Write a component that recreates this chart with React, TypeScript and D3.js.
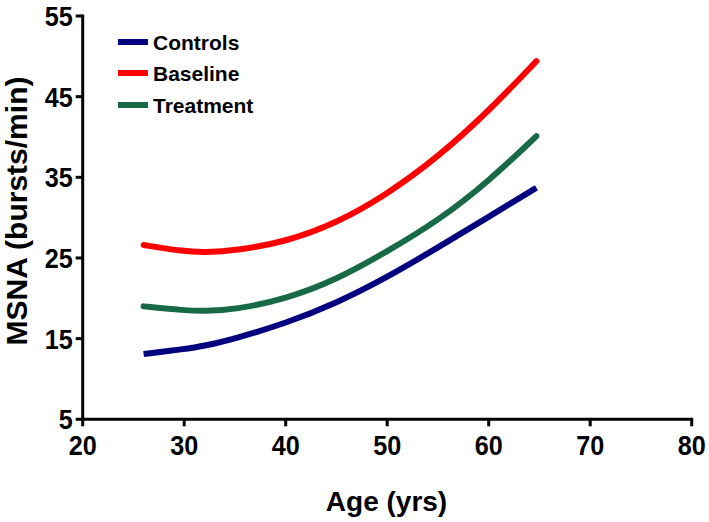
import React, { useRef, useEffect } from "react";
import * as d3 from "d3";

const ages = [26, 30, 32, 35, 40, 45, 50, 55, 60, 64.7];
const controls = [13.1, 13.7, 14.1, 15.0, 16.9, 19.4, 22.6, 26.3, 30.1, 33.7];
const baseline = [26.6, 25.8, 25.7, 25.9, 27.0, 29.3, 32.9, 37.5, 43.2, 49.4];
const treatment = [19.0, 18.5, 18.4, 18.6, 19.9, 22.3, 25.8, 29.6, 34.5, 40.1];

const xTicks = [20, 30, 40, 50, 60, 70, 80];
const yTicks = [5, 15, 25, 35, 45, 55];

const series = [
  { name: "Controls", values: controls, color: "#02027e", cap: "butt" },
  { name: "Baseline", values: baseline, color: "#ff0000", cap: "round" },
  { name: "Treatment", values: treatment, color: "#186a46", cap: "round" },
];

export default function App() {
  const ref = useRef<SVGSVGElement>(null);

  useEffect(() => {
    if (!ref.current) return;
    const svg = d3.select(ref.current);
    svg.selectAll("*").remove();

    const x = d3.scaleLinear().domain([20, 80]).range([82.7, 691.7]);
    const y = d3.scaleLinear().domain([5, 55]).range([419.3, 16]);
    const font = "'Liberation Sans', Arial, sans-serif";

    // axes
    const ax = svg.append("g").attr("stroke", "#000").attr("stroke-width", 3).attr("fill", "none");
    ax.append("line").attr("x1", x(20)).attr("x2", x(80)).attr("y1", y(5)).attr("y2", y(5)).attr("stroke-linecap", "square");
    ax.append("line").attr("x1", x(20)).attr("x2", x(20)).attr("y1", y(5)).attr("y2", y(55)).attr("stroke-linecap", "square");
    ax.selectAll(".xt").data(xTicks).enter().append("line")
      .attr("x1", d => x(d)).attr("x2", d => x(d)).attr("y1", y(5)).attr("y2", y(5) + 7);
    ax.selectAll(".yt").data(yTicks).enter().append("line")
      .attr("x1", x(20) - 7).attr("x2", x(20)).attr("y1", d => y(d)).attr("y2", d => y(d));

    // tick labels
    svg.selectAll(".xl").data(xTicks).enter().append("text")
      .attr("transform", d => `translate(${x(d)},${y(5) + 36}) scale(0.9,1)`)
      .attr("text-anchor", "middle").style("font-family", font).style("font-weight", "bold")
      .style("font-size", "28px").text(d => d);
    svg.selectAll(".yl").data(yTicks).enter().append("text")
      .attr("transform", d => `translate(${x(20) - 10},${y(d) + 10}) scale(0.9,1)`)
      .attr("text-anchor", "end").style("font-family", font).style("font-weight", "bold")
      .style("font-size", "28px").text(d => d);

    // axis titles
    svg.append("text").attr("x", 386.5).attr("y", 511).attr("text-anchor", "middle")
      .style("font-family", font).style("font-weight", "bold").style("font-size", "28px").text("Age (yrs)");
    svg.append("text").attr("transform", "translate(27,211) rotate(-90)").attr("text-anchor", "middle")
      .style("font-family", font).style("font-weight", "bold").style("font-size", "30px").text("MSNA (bursts/min)");

    // curves
    const line = d3.line<number>().x((_, i) => x(ages[i])).y(d => y(d)).curve(d3.curveBasis);
    series.forEach(s => {
      svg.append("path").attr("d", line(s.values)!).attr("fill", "none")
        .attr("stroke", s.color).attr("stroke-width", 6).attr("stroke-linecap", s.cap);
    });

    // legend
    const lg = svg.selectAll(".lg").data(series).enter().append("g")
      .attr("transform", (_, i) => `translate(0,${[42, 73, 105][i]})`);
    lg.append("line").attr("x1", 118).attr("x2", 148).attr("y1", 0).attr("y2", 0)
      .attr("stroke", d => d.color).attr("stroke-width", 6);
    lg.append("text").attr("x", 153).attr("y", 8).style("font-family", font).style("font-weight", "bold")
      .style("font-size", "21px").text(d => d.name);
  }, []);

  return (
    <svg ref={ref} width={709} height={522} style={{ position: "absolute", left: 0, top: 0, background: "#fff" }} />
  );
}
